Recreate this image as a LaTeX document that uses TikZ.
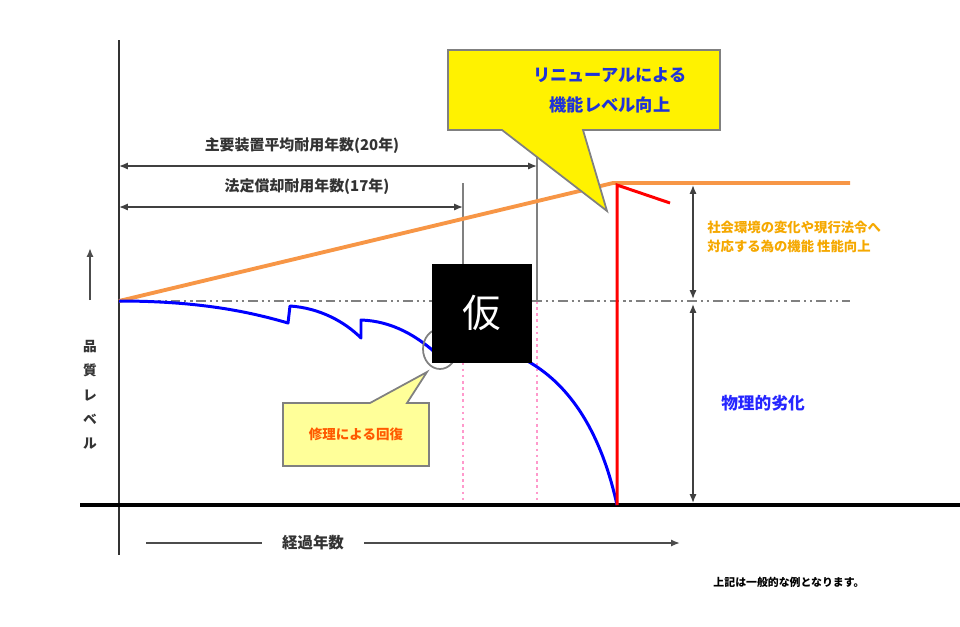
\documentclass[tikz,border=0pt]{standalone}
\usepackage{fontspec}
\usepackage{xcolor}
\newfontfamily\jp{Noto Sans CJK JP}
\usetikzlibrary{arrows.meta}

\definecolor{reneworange}{HTML}{F79646}
\definecolor{notegold}{HTML}{F5A800}
\definecolor{calloutblue}{HTML}{1F33D9}
\definecolor{repairorange}{HTML}{FF5A00}
\definecolor{softyellow}{HTML}{FFFF99}
\definecolor{guidepink}{HTML}{FF99CC}

\tikzset{
  jptext/.style={font=\jp\bfseries, inner sep=0pt},
  dimline/.style={draw=black!75, line width=0.8pt, {Latex[length=5pt,width=4pt]}-{Latex[length=5pt,width=4pt]}},
  guide/.style={draw=gray, line width=0.8pt},
  pinkguide/.style={draw=guidepink, line width=0.7pt, dash pattern=on 1.5pt off 2pt},
  levelline/.style={draw=gray, line width=1.6pt, dash pattern=on 5.5pt off 2.2pt on 1.3pt off 2.2pt on 1.3pt off 2.2pt},
  callout/.style={draw=gray, line width=1pt, line join=miter},
}

\begin{document}
\begin{tikzpicture}[x=0.02cm, y=-0.02cm]
    \useasboundingbox (0,0) rectangle (960,626);

    \coordinate (origin) at (119,301);
    \coordinate (peak) at (613,183);
    \coordinate (lvlend) at (850,301);
    \coordinate (topend) at (850,183);
    \coordinate (drop) at (617,505);
    \coordinate (legal) at (463,301);
    \coordinate (average) at (537,301);

    \draw[pinkguide] (legal) -- (463,505);
    \draw[pinkguide] (average) -- (537,505);
    \draw[guide] (463,183) -- (legal);
    \draw[guide] (537,130) -- (average);

    \draw[levelline] (origin) -- (lvlend);

    \draw[line width=1.7pt, black!80] (119,40) -- (119,555);
    \draw[line width=1.9pt, black] (80,505) -- (960,505);

    \draw[dimline] (119,166) -- (537,166);
    \draw[dimline] (119,207) -- (463,207);
    \node[jptext, font=\jp\bfseries\fontsize{8.5}{10}\selectfont, text=black!80] (avglabel) at (302,146) {主要装置平均耐用年数(20年)};
    \node[jptext, font=\jp\bfseries\fontsize{8.5}{10}\selectfont, text=black!80] (legallabel) at (307,187) {法定償却耐用年数(17年)};

    \draw[reneworange, line width=2.2pt, line join=round] (origin) -- (peak) -- (topend);

    \draw[blue, line width=1.7pt, line join=round]
      (origin) .. controls (200,301) and (250,312) .. (288,323) -- (290,306)
      .. controls (320,308) and (345,322) .. (361,338) -- (361,320)
      .. controls (392,321) and (418,336) .. (440,357) -- (441,342)
      .. controls (500,340) and (585,360) .. (drop);

    \draw[red, line width=1.7pt] (drop) -- (617,185) -- (670,203);

    \draw[dimline] (693,185) -- (693,299);
    \draw[dimline] (693,304) -- (693,503);

    \node[jptext, font=\jp\bfseries\fontsize{7.6}{11}\selectfont, text=notegold, align=left, anchor=west] (envnote) at (707,237) {社会環境の変化や現行法令へ\\対応する為の機能 性能向上};
    \node[jptext, font=\jp\bfseries\fontsize{9.5}{11}\selectfont, text=blue!85] (wear) at (763,403) {物理的劣化};

    \draw[gray, line width=1pt] (440,349) ellipse [x radius=17, y radius=20];

    \draw[callout, fill=softyellow] (283,403) -- (370,403) -- (427,372) -- (407,403) -- (429,403) -- (429,466) -- (283,466) -- cycle;
    \node[jptext, font=\jp\bfseries\fontsize{7.7}{9}\selectfont, text=repairorange] (repair) at (356,434) {修理による回復};

    \draw[callout, fill=yellow] (448,50) -- (720,50) -- (720,130) -- (583,130) -- (607,211) -- (502,130) -- (448,130) -- cycle;
    \node[jptext, font=\jp\bfseries\fontsize{9.8}{17}\selectfont, text=calloutblue, align=center] (renewal) at (610,90) {リニューアルによる\\機能レベル向上};

    \draw[black!70, line width=1.2pt, -{Latex[length=5pt,width=4pt]}] (90,300) -- (90,248);
    \node[jptext, font=\jp\bfseries\fontsize{7.8}{13.8}\selectfont, text=black!80, align=center] (quality) at (90,395) {品\\質\\レ\\ベ\\ル};

    \draw[black!70, line width=1.2pt] (146,543) -- (262,543);
    \node[jptext, font=\jp\bfseries\fontsize{8.8}{10}\selectfont, text=black!80] (years) at (313,543) {経過年数};
    \draw[black!70, line width=1.2pt, -{Latex[length=5pt,width=4pt]}] (364,543) -- (680,543);

    \node[jptext, font=\jp\bfseries\fontsize{6.2}{8}\selectfont] (remark) at (789,582) {上記は一般的な例となります。};

    \node[fill=black, text=white, minimum width=100*0.02cm, minimum height=99*0.02cm, inner sep=0pt, font=\jp\fontsize{22}{24}\selectfont] (draft) at (482,313) {仮};
\end{tikzpicture}
\end{document}
